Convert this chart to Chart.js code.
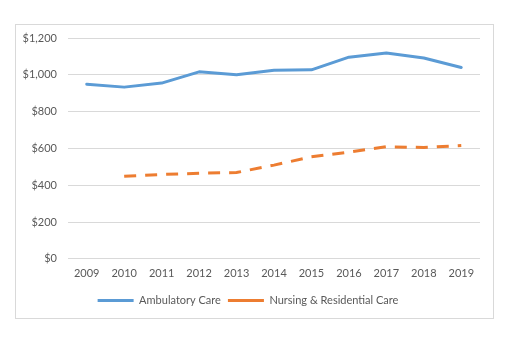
<!DOCTYPE html>
<html>
<head>
<meta charset="utf-8">
<script src="https://cdn.jsdelivr.net/npm/chart.js@4/dist/chart.umd.min.js"></script>
<style>
  html, body { margin: 0; padding: 0; background: #fff; }
  #box {
    position: absolute;
    left: 15px;
    top: 24px;
    width: 477px;
    height: 293px;
    border: 1px solid #d9d9d9;
  }
</style>
</head>
<body>
<div id="box"><canvas id="chart" width="477" height="293"></canvas></div>
<script>
const years = ["2009", "2010", "2011", "2012", "2013", "2014", "2015", "2016", "2017", "2018", "2019"];

const ambulatory = [949, 933, 955, 1016, 1000, 1025, 1027, 1096, 1118, 1091, 1040];
const nursing = [null, 448, 458, 465, 469, 509, 554, 580, 609, 605, 616];

const yTicks = [0, 200, 400, 600, 800, 1000, 1200];

const textColor = "#595959";
const gridColor = "#d9d9d9";
const font = { family: "Lato", size: 11 };

const config = {
  type: "line",
  data: {
    labels: years,
    datasets: [
      {
        label: "Ambulatory Care",
        data: ambulatory,
        borderColor: "#5b9bd5",
        backgroundColor: "#5b9bd5",
        borderWidth: 3,
        borderCapStyle: "round",
        borderJoinStyle: "round",
        pointRadius: 0,
        pointStyle: "line",
        tension: 0,
      },
      {
        label: "Nursing & Residential Care",
        data: nursing,
        borderColor: "#ed7d31",
        backgroundColor: "#ed7d31",
        borderWidth: 3,
        borderDash: [12, 9],
        borderCapStyle: "butt",
        pointRadius: 0,
        pointStyle: "line",
        tension: 0,
      },
    ],
  },
  options: {
    responsive: false,
    animation: false,
    layout: {
      padding: { left: 0, right: 13, top: 13, bottom: 2 },
    },
    plugins: {
      legend: {
        position: "bottom",
        labels: {
          usePointStyle: true,
          pointStyleWidth: 36,
          color: textColor,
          font: font,
          padding: 7,
        },
      },
      tooltip: { enabled: false },
    },
    scales: {
      x: {
        offset: true,
        grid: { display: false, drawTicks: false },
        border: { display: false },
        ticks: {
          color: textColor,
          font: font,
          padding: 8,
          maxRotation: 0,
        },
      },
      y: {
        min: 0,
        max: 1200,
        afterBuildTicks: (axis) => {
          axis.ticks = yTicks.map((v) => ({ value: v }));
        },
        afterFit: (axis) => {
          axis.width = 52;
          axis.paddingTop = 0;
          axis.paddingBottom = 0;
        },
        grid: { color: gridColor, drawTicks: false },
        border: { display: false },
        ticks: {
          color: textColor,
          font: font,
          padding: 11,
          callback: (v) => "$" + v.toLocaleString("en-US"),
        },
      },
    },
  },
};

new Chart(document.getElementById("chart"), config);
</script>
</body>
</html>
